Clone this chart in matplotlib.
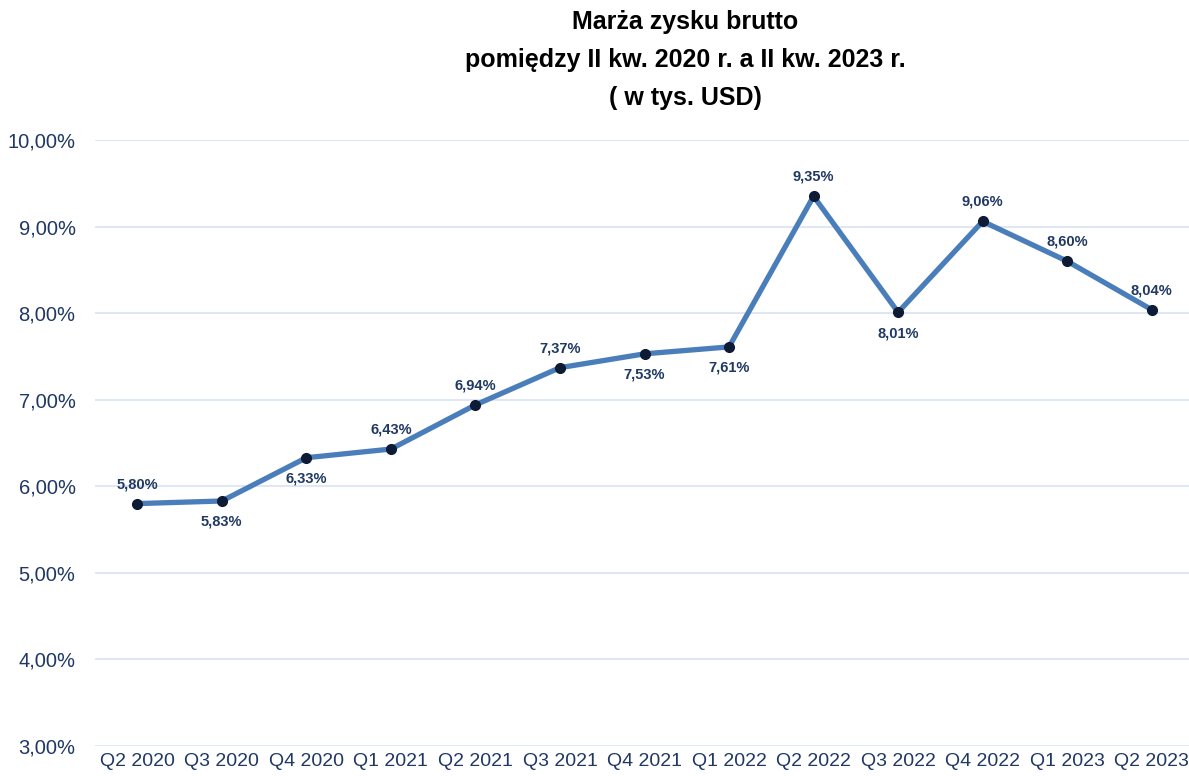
import matplotlib
matplotlib.use("Agg")
import matplotlib.pyplot as plt

categories = ["Q2 2020", "Q3 2020", "Q4 2020", "Q1 2021", "Q2 2021", "Q3 2021", "Q4 2021",
              "Q1 2022", "Q2 2022", "Q3 2022", "Q4 2022", "Q1 2023", "Q2 2023"]
values = [5.80, 5.83, 6.33, 6.43, 6.94, 7.37, 7.53, 7.61, 9.35, 8.01, 9.06, 8.60, 8.04]
label_above = [True, False, False, True, True, True, False, False, True, False, True, True, True]
yticks = [3, 4, 5, 6, 7, 8, 9, 10]

plt.rcParams['font.family'] = ['Liberation Sans', 'DejaVu Sans']
navy = "#1F3864"
line_c = "#4A7EBB"

fig = plt.figure(figsize=(11.89, 7.76), dpi=100)
ax = fig.add_axes([95/1189, 30/776, 1099/1189, 606/776])
x = list(range(len(categories)))
ax.plot(x, values, color=line_c, lw=3.8, zorder=3, solid_capstyle='round')
ax.plot(x, values, 'o', color="#0D1B35", ms=7, zorder=4)

for xi, v, up in zip(x, values, label_above):
    ax.annotate(f"{v:.2f}%".replace('.', ','), (xi, v), xytext=(0, 14 if up else -15),
                textcoords='offset points', ha='center', va='center',
                fontsize=10.5, fontweight='bold', color=navy)

ax.set_xlim(-0.5, len(categories) - 0.5)
ax.set_ylim(3, 10)
ax.set_yticks(yticks)
ax.set_yticklabels([f"{t:.2f}%".replace('.', ',') for t in yticks], color=navy, fontsize=14.5)
ax.set_xticks(x)
ax.set_xticklabels(categories, color=navy, fontsize=14)
ax.tick_params(length=0)
ax.tick_params(axis='y', pad=14)
ax.tick_params(axis='x', pad=5)
ax.grid(axis='y', color="#D9E1F2", lw=1.2)
ax.set_axisbelow(True)
for s in ax.spines.values():
    s.set_visible(False)

for txt, yy in [("Marża zysku brutto", 22), ("pomiędzy II kw. 2020 r. a II kw. 2023 r.", 60),
                ("( w tys. USD)", 98)]:
    fig.text(685/1189, 1 - yy/776, txt, ha='center', va='center',
             fontsize=18, fontweight='bold', color='black')

fig.savefig("out.png", dpi=100)
